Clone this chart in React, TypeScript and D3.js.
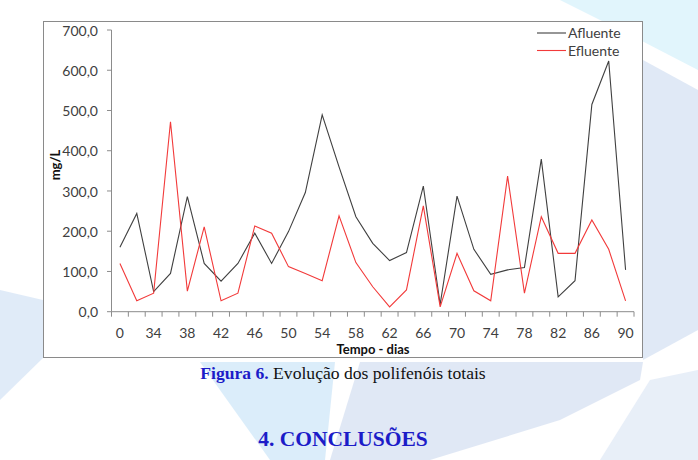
import * as d3 from 'd3';

// dias de amostragem (rótulo exibido só a cada duas categorias)
const dias = [
  '0', '32', '34', '36', '38', '40', '42', '44', '46', '48', '50', '52', '54', '56', '58',
  '60', '62', '64', '66', '68', '70', '72', '74', '76', '78', '80', '82', '84', '86', '88', '90',
];

const afluente = [
  160, 244, 50, 95, 286, 120, 76, 120, 195, 120, 199, 296, 489, 360, 236,
  170, 127, 147, 312, 18, 287, 155, 93, 104, 110, 379, 37, 77, 515, 623, 104,
];

const efluente = [
  120, 27, 46, 472, 51, 211, 27, 46, 213, 195, 112, 95, 77, 238, 122,
  62, 12, 54, 263, 12, 145, 52, 27, 337, 46, 236, 145, 145, 228, 155, 27,
];

const yTicks = [0, 100, 200, 300, 400, 500, 600, 700];

const series = [
  { name: 'Afluente', values: afluente, color: '#404040' },
  { name: 'Efluente', values: efluente, color: '#f23a3a' },
];

const W = 698;
const H = 460;
const font = 'Lato, "Open Sans", sans-serif';

export default function App() {
  const x = d3.scaleBand<string>().domain(dias).range([111.5, 634]);
  const y = d3.scaleLinear().domain([0, 700]).range([311.7, 30]);
  const cx = (d: string) => (x(d) ?? 0) + x.bandwidth() / 2;

  const line = d3
    .line<number>()
    .x((_, i) => cx(dias[i]))
    .y((v) => y(v));

  const fmt = (v: number) => v.toFixed(1).replace('.', ',');

  return (
    <svg width={W} height={H} style={{ position: 'absolute', left: 0, top: 0 }}>
      <rect width={W} height={H} fill="#fff" />
      {/* marca d'água do fundo */}
      <g opacity={0.55}>
        <polygon points="560,0 698,0 698,70 640,40" fill="#c9eefb" />
        <polygon points="643,60 698,90 698,330 643,360" fill="#c8d8f0" />
        <polygon points="0,290 43,300 43,358 0,400" fill="#c8dcf4" />
        <polygon points="200,362 335,362 325,460 270,460" fill="#bfe0f7" />
        <polygon points="360,362 643,362 640,380 560,420 430,460 330,460" fill="#c8d6ee" />
        <polygon points="650,380 698,370 698,460 600,460" fill="#d6e2f4" />
      </g>

      <rect x={43.5} y={21.5} width={599} height={336} fill="#fff" stroke="#8a8a8a" />

      {/* eixo y */}
      <line x1={111.5} x2={111.5} y1={y(700)} y2={y(0)} stroke="#8c8c8c" />
      {yTicks.map((t) => (
        <g key={t}>
          <line x1={107} x2={111.5} y1={y(t)} y2={y(t)} stroke="#8c8c8c" />
          <text
            x={98}
            y={y(t)}
            dy="0.4em"
            textAnchor="end"
            fontFamily={font}
            fontSize={14}
            fill="#404040"
          >
            {fmt(t)}
          </text>
        </g>
      ))}

      {/* eixo x */}
      <line x1={111.5} x2={634} y1={y(0)} y2={y(0)} stroke="#8c8c8c" />
      {dias.map((d) => (
        <line
          key={'t' + d}
          x1={x(d)}
          x2={x(d)}
          y1={y(0)}
          y2={y(0) + 5}
          stroke="#8c8c8c"
        />
      ))}
      <line x1={634} x2={634} y1={y(0)} y2={y(0) + 5} stroke="#8c8c8c" />
      {dias.map((d, i) =>
        i % 2 === 0 ? (
          <text
            key={'l' + d}
            x={cx(d)}
            y={338}
            textAnchor="middle"
            fontFamily={font}
            fontSize={14}
            fill="#404040"
          >
            {d}
          </text>
        ) : null
      )}

      {series.map((s) => (
        <path key={s.name} d={line(s.values) ?? ''} fill="none" stroke={s.color} strokeWidth={1.1} />
      ))}

      <text x={373} y={354} textAnchor="middle" fontFamily={font} fontSize={13} fontWeight="bold" fill="#111">
        Tempo - dias
      </text>
      <text
        transform={`translate(60,165) rotate(-90)`}
        textAnchor="middle"
        fontFamily={font}
        fontSize={13}
        fontWeight="bold"
        fill="#111"
      >
        mg/L
      </text>

      {/* legenda */}
      {series.map((s, i) => (
        <g key={'lg' + s.name} transform={`translate(537,${33 + i * 17.5})`}>
          <line x1={0} x2={29} y1={0} y2={0} stroke={s.color} strokeWidth={1.1} />
          <text x={31} y={0} dy="0.38em" fontFamily={font} fontSize={14} fill="#404040">
            {s.name}
          </text>
        </g>
      ))}

      <text x={343} y={379} textAnchor="middle" fontFamily='"Liberation Serif", serif' fontSize={17.6}>
        <tspan fontWeight="bold" fill="#1c1cc8">Figura 6.</tspan>
        <tspan fill="#111"> Evolução dos polifenóis totais</tspan>
      </text>
      <text
        x={343}
        y={446}
        textAnchor="middle"
        fontFamily='"Liberation Serif", serif'
        fontSize={21.5}
        fontWeight="bold"
        fill="#1c1cc8"
      >
        4. CONCLUSÕES
      </text>
    </svg>
  );
}
